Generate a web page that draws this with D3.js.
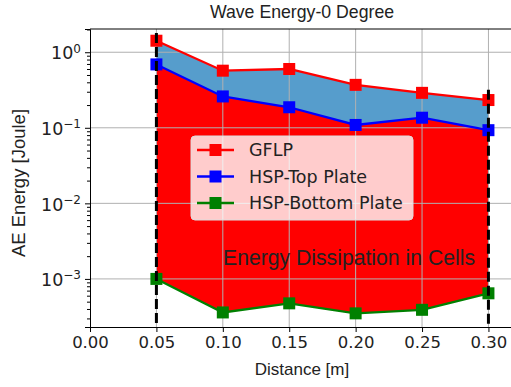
<!DOCTYPE html>
<html>
<head>
<meta charset="utf-8">
<script src="https://d3js.org/d3.v7.min.js"></script>
<style>
body { margin: 0; background: #fff; }
.tick text { font-family: "DejaVu Sans", sans-serif; }
.lbl { font-family: "Liberation Sans", Arial, sans-serif; fill: #222; }
</style>
</head>
<body>
<script>

// values
var distance = [0.05, 0.10, 0.15, 0.20, 0.25, 0.30];
var gflp      = [1.42, 0.57, 0.60, 0.37, 0.29, 0.233];
var hspTop    = [0.69, 0.26, 0.187, 0.109, 0.136, 0.093];
var hspBottom = [1.0e-3, 3.6e-4, 4.75e-4, 3.5e-4, 3.9e-4, 6.45e-4];

var xTicks = [0.00, 0.05, 0.10, 0.15, 0.20, 0.25, 0.30];
var yTicks = [1e0, 1e-1, 1e-2, 1e-3];
var yExp   = ["0", "\u22121", "\u22122", "\u22123"];

var seriesNames = ["GFLP", "HSP-Top Plate", "HSP-Bottom Plate"];
var seriesColors = ["#ff0000", "#0000ff", "#008000"];

// dashed boundary lines: [x, yTop]
var bounds = [[0.05, 1.8], [0.30, 0.32]];

var width = 511, height = 387;
var margin = {left: 90, top: 29, right: -4, bottom: 60};

var svg = d3.select("body").append("svg")
  .attr("width", width)
  .attr("height", height);

var x = d3.scaleLinear()
  .domain([0, 0.32])
  .range([margin.left, width - margin.right]);

var y = d3.scaleLog()
  .domain([2.31e-4, 2.03])
  .range([height - margin.bottom, margin.top]);

var pts = distance.map(function(d, i) {
  return {x: d, g: gflp[i], t: hspTop[i], b: hspBottom[i]};
});

// fills
var blueArea = d3.area()
  .x(function(d) { return x(d.x); })
  .y0(function(d) { return y(d.t); })
  .y1(function(d) { return y(d.g); });

var redArea = d3.area()
  .x(function(d) { return x(d.x); })
  .y0(function(d) { return y(d.b); })
  .y1(function(d) { return y(d.t); });

svg.append("path").datum(pts).attr("d", blueArea).attr("fill", "#569dcc");
svg.append("path").datum(pts).attr("d", redArea).attr("fill", "#ff0000");

// grid
var grid = svg.append("g");
grid.selectAll("line.gx").data(xTicks.slice(1)).enter().append("line")
  .attr("x1", x).attr("x2", x)
  .attr("y1", y.range()[1]).attr("y2", y.range()[0])
  .attr("stroke", "#b0b0b0").attr("stroke-width", 1);
grid.selectAll("line.gy").data(yTicks).enter().append("line")
  .attr("x1", x.range()[0]).attr("x2", x.range()[1])
  .attr("y1", y).attr("y2", y)
  .attr("stroke", "#b0b0b0").attr("stroke-width", 1);

// series lines + markers
var keys = ["g", "t", "b"];
keys.forEach(function(k, i) {
  var line = d3.line()
    .x(function(d) { return x(d.x); })
    .y(function(d) { return y(d[k]); });
  svg.append("path").datum(pts)
    .attr("d", line)
    .attr("fill", "none")
    .attr("stroke", seriesColors[i])
    .attr("stroke-width", 2.3);
  svg.selectAll("rect.m" + k).data(pts).enter().append("rect")
    .attr("x", function(d) { return x(d.x) - 6; })
    .attr("y", function(d) { return y(d[k]) - 6; })
    .attr("width", 12).attr("height", 12)
    .attr("fill", seriesColors[i]);
});

// dashed vertical lines
svg.selectAll("line.vb").data(bounds).enter().append("line")
  .attr("x1", function(d) { return x(d[0]); })
  .attr("x2", function(d) { return x(d[0]); })
  .attr("y1", function(d) { return y(d[1]); })
  .attr("y2", y.range()[0])
  .attr("stroke", "#000")
  .attr("stroke-width", 3)
  .attr("stroke-dasharray", "10,4");

// axes
var xAxis = svg.append("g")
  .attr("transform", "translate(0," + y.range()[0] + ")")
  .call(d3.axisBottom(x).tickValues(xTicks).tickFormat(d3.format(".2f"))
    .tickSize(5).tickPadding(4));
xAxis.selectAll("text").attr("font-size", 16.5).attr("fill", "#222");

var minors = [];
[-4, -3, -2, -1, 0].forEach(function(e) {
  for (var m = 2; m <= 9; m++) minors.push(m * Math.pow(10, e));
});
minors = minors.filter(function(v) { return v >= y.domain()[0] && v <= y.domain()[1]; });

var yAxisMinor = svg.append("g")
  .attr("transform", "translate(" + x.range()[0] + ",0)")
  .call(d3.axisLeft(y).tickValues(minors).tickFormat("").tickSize(3));
yAxisMinor.select(".domain").remove();

var yAxis = svg.append("g")
  .attr("transform", "translate(" + x.range()[0] + ",0)")
  .call(d3.axisLeft(y).tickValues(yTicks).tickFormat("").tickSize(5));

yAxis.selectAll(".tick").each(function(d, i) {
  var t = d3.select(this).append("text")
    .attr("x", -9).attr("dy", "0.38em")
    .attr("text-anchor", "end")
    .attr("fill", "#222")
    .attr("font-size", 17.5);
  t.append("tspan").text("10");
  t.append("tspan").text(yExp[i]).attr("font-size", 12).attr("dy", "-0.55em");
});

svg.selectAll(".domain").attr("stroke", "#000");
svg.selectAll(".tick line").attr("stroke", "#000");

// top spine
svg.append("line")
  .attr("x1", x.range()[0]).attr("x2", x.range()[1])
  .attr("y1", y.range()[1]).attr("y2", y.range()[1])
  .attr("stroke", "#000");

// annotation
svg.append("text").attr("class", "lbl")
  .attr("x", 223).attr("y", 265)
  .attr("font-size", 21.2)
  .attr("fill", "#111")
  .text("Energy Dissipation in Cells");

// legend
var lg = svg.append("g").attr("transform", "translate(191,136)");
lg.append("rect")
  .attr("width", 222).attr("height", 84).attr("rx", 4)
  .attr("fill", "#fff").attr("fill-opacity", 0.8)
  .attr("stroke", "#ddd");
seriesNames.forEach(function(name, i) {
  var row = lg.append("g").attr("transform", "translate(0," + (14 + i * 26.5) + ")");
  row.append("line").attr("x1", 6).attr("x2", 43)
    .attr("stroke", seriesColors[i]).attr("stroke-width", 2.3);
  row.append("rect").attr("x", 18.5).attr("y", -6).attr("width", 12).attr("height", 12)
    .attr("fill", seriesColors[i]);
  row.append("text").attr("x", 58).attr("dy", "0.36em")
    .attr("font-family", "DejaVu Sans, sans-serif")
    .attr("font-size", 17.5).attr("fill", "#222")
    .text(name);
});

// title and axis labels
svg.append("text").attr("class", "lbl")
  .attr("x", 302).attr("y", 18).attr("text-anchor", "middle")
  .attr("font-size", 17.7)
  .text("Wave Energy-0 Degree");

svg.append("text").attr("class", "lbl")
  .attr("x", 302).attr("y", 375).attr("text-anchor", "middle")
  .attr("font-size", 17)
  .text("Distance [m]");

svg.append("text").attr("class", "lbl")
  .attr("transform", "translate(25,183) rotate(-90)")
  .attr("text-anchor", "middle")
  .attr("font-size", 18.5)
  .text("AE Energy [Joule]");

</script>
</body>
</html>
